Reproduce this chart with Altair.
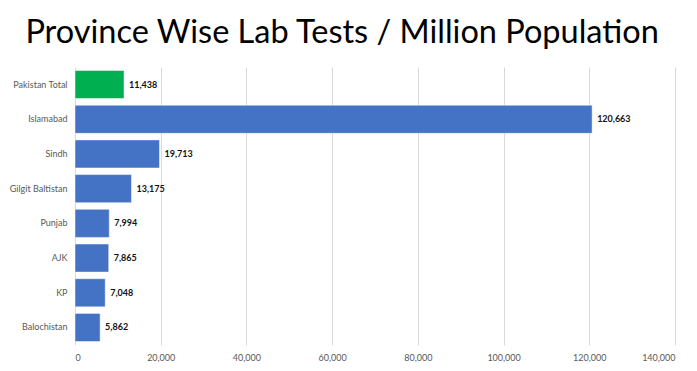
import altair as alt
import pandas as pd

regions = ["Pakistan Total", "Islamabad", "Sindh", "Gilgit Baltistan", "Punjab", "AJK", "KP", "Balochistan"]
tests = [11438, 120663, 19713, 13175, 7994, 7865, 7048, 5862]
colors = ["#00B050", "#4472C4", "#4472C4", "#4472C4", "#4472C4", "#4472C4", "#4472C4", "#4472C4"]
x_ticks = [0, 20000, 40000, 60000, 80000, 100000, 120000, 140000]

df = pd.DataFrame({"region": regions, "tests": tests, "color": colors})
df["label"] = df["tests"].map(lambda v: f"{v:,}")

y = alt.Y("region:N", sort=regions, title=None,
          scale=alt.Scale(paddingInner=0.19, paddingOuter=0.1),
          axis=alt.Axis(labelFont="Lato", labelFontSize=9, labelColor="#595959",
                        ticks=False, domain=False, labelPadding=8))
x = alt.X("tests:Q", title=None,
          scale=alt.Scale(domain=[0, 140000], nice=False),
          axis=alt.Axis(values=x_ticks, format=",.0f",
                        labelFont="Lato", labelFontSize=9, labelColor="#595959",
                        ticks=False, domain=False, gridColor="#D9D9D9",
                        gridWidth=1, labelPadding=8))

base = alt.Chart(df).encode(x=x, y=y)
bars = base.mark_bar(stroke="#FFFFFF", strokeWidth=0.5).encode(
    color=alt.Color("color:N", scale=None)
)
text = base.mark_text(align="left", dx=5, fontWeight="bold",
                      font="Lato", fontSize=9, color="#111111").encode(text="label:N")

chart = (bars + text).properties(
    width=600, height=278,
    title=alt.TitleParams("Province Wise Lab Tests / Million Population",
                          font="Lato", fontSize=32.5, fontWeight="normal",
                          color="#000000", anchor="middle", frame="bounds", offset=18),
    padding={"left": 1, "top": 8, "right": 5, "bottom": 5}
).configure_view(stroke=None)

chart.save("out.html", embed_options={"renderer": "svg", "actions": False})
